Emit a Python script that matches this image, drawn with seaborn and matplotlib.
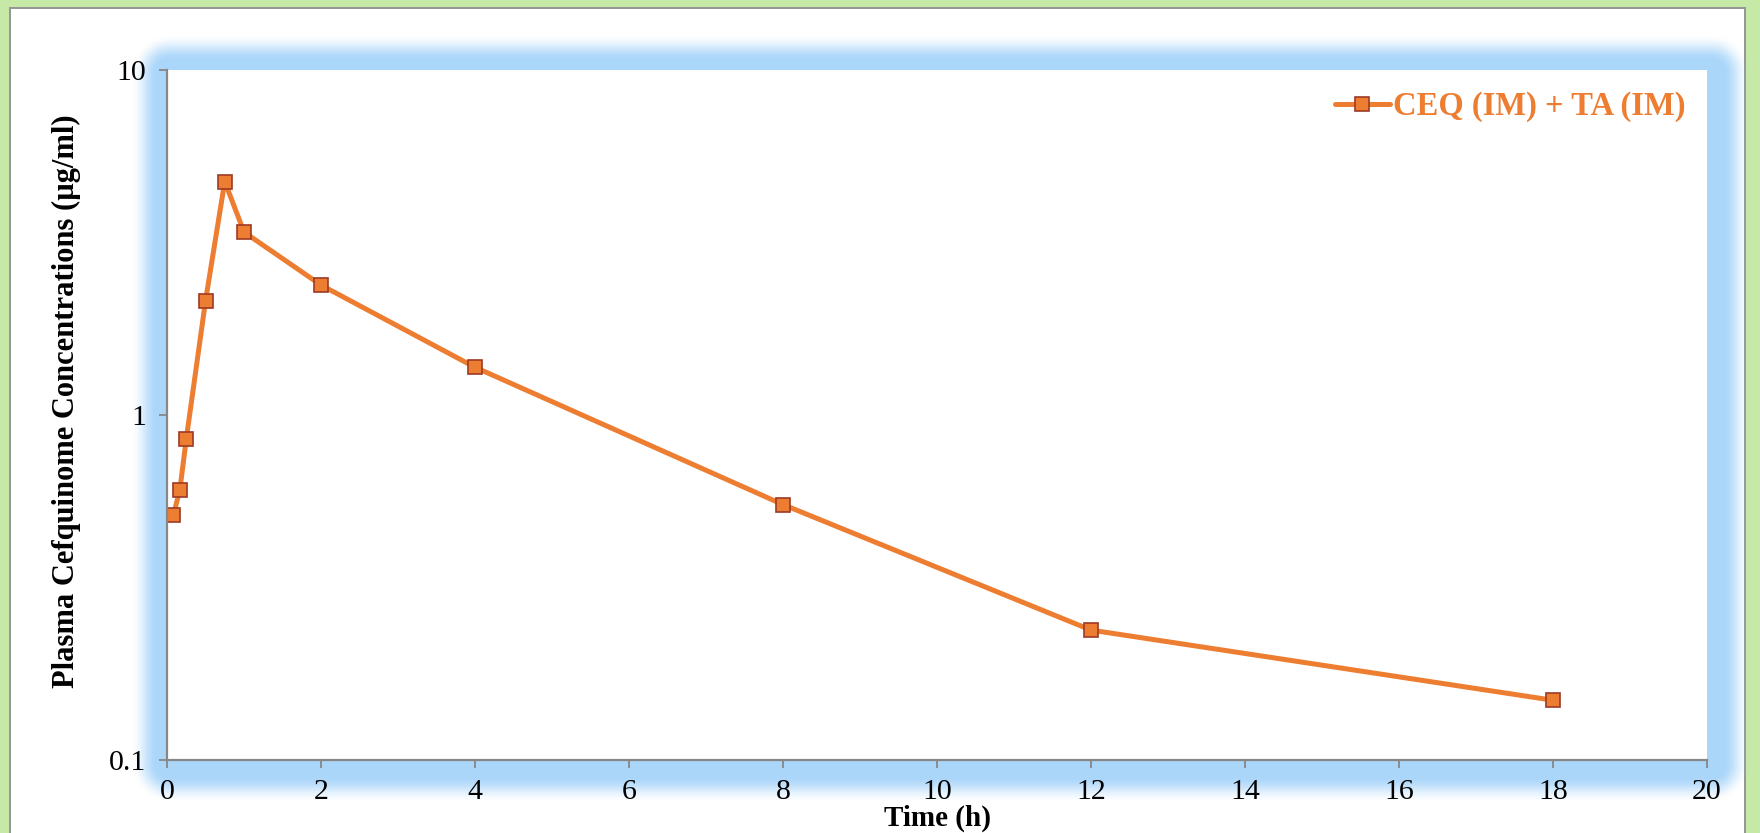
import numpy as np
import pandas as pd
import matplotlib
matplotlib.use("Agg")
import matplotlib.pyplot as plt
import seaborn as sns

# ---- data ----
time_h = [0.083, 0.167, 0.25, 0.5, 0.75, 1, 2, 4, 8, 12, 18]
conc = [0.513, 0.607, 0.851, 2.14, 4.75, 3.39, 2.38, 1.375, 0.550, 0.238, 0.149]
series_name = "CEQ (IM) + TA (IM)"
x_ticks = [0, 2, 4, 6, 8, 10, 12, 14, 16, 18, 20]
y_ticks = [0.1, 1, 10]
y_tick_labels = ["0.1", "1", "10"]

sns.set_theme(style="white")
plt.rcParams['font.family'] = ['Liberation Serif', 'DejaVu Serif']

W, H = 1760, 833
fig = plt.figure(figsize=(W / 100, H / 100), dpi=100)

# ---- background: green frame, white panel, blue glow around the plot area ----
green = np.array([198, 233, 168]) / 255.0
white = np.array([1.0, 1.0, 1.0])
gray = np.array([150, 150, 150]) / 255.0
blue = np.array([170, 214, 250]) / 255.0
img = np.ones((H, W, 3)) * green
yy, xx = np.mgrid[0:H, 0:W]
panel = (xx >= 9) & (xx <= 1745) & (yy >= 7)
img[panel] = white
edge = panel & ((xx <= 10) | (xx >= 1744) | (yy <= 8))
img[edge] = gray
ax0, ax1, ay0, ay1 = 169, 1711, 72, 764
dx = np.maximum(np.maximum(ax0 - xx, 0), xx - ax1)
dy = np.maximum(np.maximum(ay0 - yy, 0), yy - ay1)
d = np.hypot(dx, dy)
t = np.clip((d - 12) / 26.0, 0, 1)
alpha = 1 - (3 * t ** 2 - 2 * t ** 3)
img = img * (1 - alpha[..., None]) + blue * alpha[..., None]
bg = fig.add_axes([0, 0, 1, 1], zorder=0)
bg.imshow(img, aspect="auto", interpolation="bilinear")
bg.axis("off")

# ---- main axes ----
ax = fig.add_axes([167 / W, 1 - 760 / H, (1707 - 167) / W, (760 - 70) / H], zorder=1)
ax.set_facecolor("white")
df = pd.DataFrame({"Time (h)": time_h, "conc": conc})
orange = "#ED7D31"
sns.lineplot(data=df, x="Time (h)", y="conc", ax=ax, color=orange, linewidth=3.6,
             marker="s", markersize=10, markerfacecolor=orange,
             markeredgecolor="#9E3A26", markeredgewidth=1.2, label=series_name)

ax.set_yscale("log")
ax.set_ylim(0.1, 10)
ax.set_xlim(0, 20)
ax.set_xticks(x_ticks)
ax.set_xticklabels([str(v) for v in x_ticks])
ax.set_yticks(y_ticks)
ax.set_yticklabels(y_tick_labels)
ax.yaxis.set_minor_locator(matplotlib.ticker.NullLocator())

for s in ["top", "right"]:
    ax.spines[s].set_visible(False)
for s in ["left", "bottom"]:
    ax.spines[s].set_color("#878787")
    ax.spines[s].set_linewidth(1.6)
ax.tick_params(axis="both", which="major", direction="out", length=6, width=1.3,
               color="#878787", labelsize=21.5, labelcolor="black", pad=9,
               bottom=True, left=True)
ax.tick_params(axis="x", pad=8)
ax.grid(False)

ax.set_xlabel("Time (h)", fontsize=21, fontweight="bold", color="black", va="bottom")
ax.xaxis.set_label_coords(0.5, -0.104)
ax.set_ylabel("Plasma Cefquinome Concentrations (µg/ml)", fontsize=22,
              fontweight="bold", color="black")
ax.yaxis.set_label_coords(-0.056, 0.52)

leg = ax.legend(loc="upper right", frameon=False, handlelength=1.7,
                handletextpad=0.1, borderaxespad=0.25,
                prop={"weight": "bold", "size": 23.5})
for tx in leg.get_texts():
    tx.set_color(orange)

fig.savefig("out.png", dpi=100)
